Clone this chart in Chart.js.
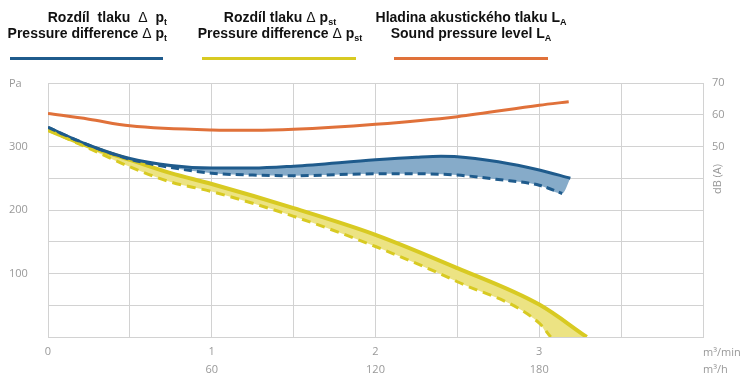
<!DOCTYPE html>
<html>
<head>
<meta charset="utf-8">
<script src="https://cdn.jsdelivr.net/npm/chart.js@4/dist/chart.umd.min.js"></script>
<style>
    body { margin: 0; background: #fff; }
    #wrap { position: relative; width: 750px; height: 385px; overflow: hidden; }
    #chart { position: absolute; left: 0; top: 0; }
    .leg { position: absolute; top: 9px; font: bold 14px "Liberation Sans", Arial, sans-serif; line-height: 16px; color: #111; white-space: nowrap; }
    .leg .d { font-weight: 400; }
    .leg sub { font-size: 9px; line-height: 0; vertical-align: -3px; }
    .bar { position: absolute; top: 57px; height: 3px; }
    .lbl { position: absolute; font: 11px "Open Sans", sans-serif; color: #999; white-space: nowrap; line-height: 14px; }
</style>
</head>
<body>
<div id="wrap">
    <canvas id="chart" width="750" height="385"></canvas>

    <div class="leg" style="left:0; width:167px; text-align:right;"><span style="word-spacing:4px;">Rozdíl tlaku <span class="d">Δ</span> p</span><sub>t</sub><br>Pressure difference <span class="d">Δ</span> p<sub>t</sub></div>
    <div class="leg" style="left:180px; width:200px; text-align:center;">Rozdíl tlaku <span class="d">Δ</span> p<sub>st</sub><br>Pressure difference <span class="d">Δ</span> p<sub>st</sub></div>
    <div class="leg" style="left:371px; width:200px; text-align:center;">Hladina akustického tlaku L<sub>A</sub><br>Sound pressure level L<sub>A</sub></div>

    <div class="bar" style="left:10px; width:153px; background:#1f5b8c;"></div>
    <div class="bar" style="left:202px; width:154px; background:#d8ca22;"></div>
    <div class="bar" style="left:394px; width:154px; background:#e0713a;"></div>

    <div class="lbl" style="left:9px; top:76px;">Pa</div>
    <div class="lbl" style="left:700px; top:172px; width:34px; text-align:center; transform:rotate(-90deg);">dB (A)</div>
    <div class="lbl" style="left:703px; top:345px;">m³/min</div>
    <div class="lbl" style="left:703px; top:362px;">m³/h</div>
</div>

<script>
// flow in m³/min, pressure in Pa, sound level in dB(A)
const ptX = [0, 0.25, 0.5, 0.75, 1.0, 1.25, 1.5, 2.0, 2.25, 2.4, 2.5, 2.75, 3.0, 3.19];
const ptSolid = [330, 302, 281, 270, 266, 266, 269, 279, 283, 284.5, 284, 276, 263, 250];
const ptDashX = [0, 0.25, 0.5, 0.75, 1.0, 1.25, 1.5, 2.0, 2.25, 2.5, 2.75, 3.0, 3.14];
const ptDash = [330, 302, 280, 267, 258, 255, 254, 257, 257, 255, 248, 239, 226];

const pstX = [0, 0.25, 0.5, 0.75, 1.0, 1.5, 2.0, 2.5, 3.0, 3.29];
const pstSolid = [326, 300, 279, 258, 241, 203, 161, 108.5, 51, 0];
const pstDashX = [0, 0.25, 0.5, 0.75, 1.0, 1.5, 2.0, 2.5, 3.0, 3.07];
const pstDash = [326, 297, 268, 244, 229, 190, 142.5, 87, 22, 0];

const laX = [0, 0.25, 0.5, 1.0, 1.25, 1.5, 2.0, 2.5, 3.0, 3.18];
const laDb = [60.4, 58.6, 56.5, 55.2, 55.1, 55.4, 57.0, 59.4, 63.0, 64.1];

const minTicks = [0, 1, 2, 3];
const hourTicks = [60, 120, 180];
const paTicks = [100, 200, 300];
const dbTicks = [50, 60, 70];

const COLORS = {
    blue: '#1f5b8c',
    blueFill: '#86abc9',
    yellow: '#d8ca22',
    yellowFill: '#ece383',
    orange: '#e0713a',
    grid: '#d2d2d2',
    text: '#999999',
};

const pts = (xs, ys) => xs.map((x, i) => ({ x, y: ys[i] }));
// fill boundary: the dashed curve, closed onto the end of the solid curve
const closeTo = (xs, ys, endXs, endYs) => pts(xs, ys).concat({ x: endXs[endXs.length - 1], y: endYs[endYs.length - 1] });
const tickFont = { family: 'Open Sans', size: 11 };

const lineBase = {
    pointRadius: 0,
    pointHoverRadius: 0,
    cubicInterpolationMode: 'monotone',
};

new Chart(document.getElementById('chart'), {
    type: 'line',
    data: {
        datasets: [
            { ...lineBase, order: 1, data: pts(ptX, ptSolid), borderColor: COLORS.blue, borderWidth: 3, fill: '+1', backgroundColor: COLORS.blueFill },
            { ...lineBase, order: 2, data: closeTo(ptDashX, ptDash, ptX, ptSolid), borderWidth: 0, borderColor: 'transparent', fill: false },
            { ...lineBase, order: 0, data: pts(ptDashX, ptDash), borderColor: COLORS.blue, borderWidth: 3, borderDash: [8, 5], fill: false },
            { ...lineBase, order: 1, data: pts(pstX, pstSolid), borderColor: COLORS.yellow, borderWidth: 4, fill: '+1', backgroundColor: COLORS.yellowFill },
            { ...lineBase, order: 2, data: closeTo(pstDashX, pstDash, pstX, pstSolid), borderWidth: 0, borderColor: 'transparent', fill: false },
            { ...lineBase, order: 0, data: pts(pstDashX, pstDash), borderColor: COLORS.yellow, borderWidth: 3, borderDash: [9, 6], fill: false },
            { ...lineBase, order: 0, data: pts(laX, laDb), borderColor: COLORS.orange, borderWidth: 3, fill: false, yAxisID: 'y1' },
        ],
    },
    options: {
        responsive: false,
        animation: false,
        events: [],
        layout: { padding: { left: 9, top: 83, right: 0, bottom: 9 } },
        plugins: { legend: { display: false }, tooltip: { enabled: false } },
        scales: {
            x: {
                type: 'linear', position: 'bottom', min: 0, max: 4,
                grid: { color: COLORS.grid, drawTicks: false },
                border: { color: COLORS.grid },
                ticks: {
                    stepSize: 0.5, autoSkip: false, maxRotation: 0, padding: 8,
                    color: COLORS.text, font: tickFont,
                    callback: v => minTicks.includes(v) ? String(v) : '',
                },
                afterFit: s => { s.height = 21; },
            },
            x2: {
                type: 'linear', position: 'bottom', min: 0, max: 240,
                grid: { display: false, drawTicks: false },
                border: { display: false },
                ticks: {
                    stepSize: 30, autoSkip: false, maxRotation: 0, padding: 5,
                    color: COLORS.text, font: tickFont,
                    callback: v => hourTicks.includes(v) ? String(v) : '',
                },
                afterFit: s => { s.height = 18; },
            },
            y: {
                position: 'left', min: 0, max: 400,
                grid: { color: COLORS.grid, drawTicks: false },
                border: { color: COLORS.grid },
                ticks: {
                    stepSize: 50, crossAlign: 'far', padding: 0,
                    color: COLORS.text, font: tickFont,
                    callback: v => paTicks.includes(v) ? String(v) : '',
                },
                afterFit: s => { s.width = 39; },
            },
            y1: {
                position: 'right', min: -10, max: 70,
                grid: { display: false, drawTicks: false },
                border: { display: false },
                ticks: {
                    stepSize: 10, padding: 9,
                    color: COLORS.text, font: tickFont,
                    callback: v => dbTicks.includes(v) ? String(v) : '',
                },
                afterFit: s => { s.width = 47; },
            },
        },
    },
});
</script>
</body>
</html>
